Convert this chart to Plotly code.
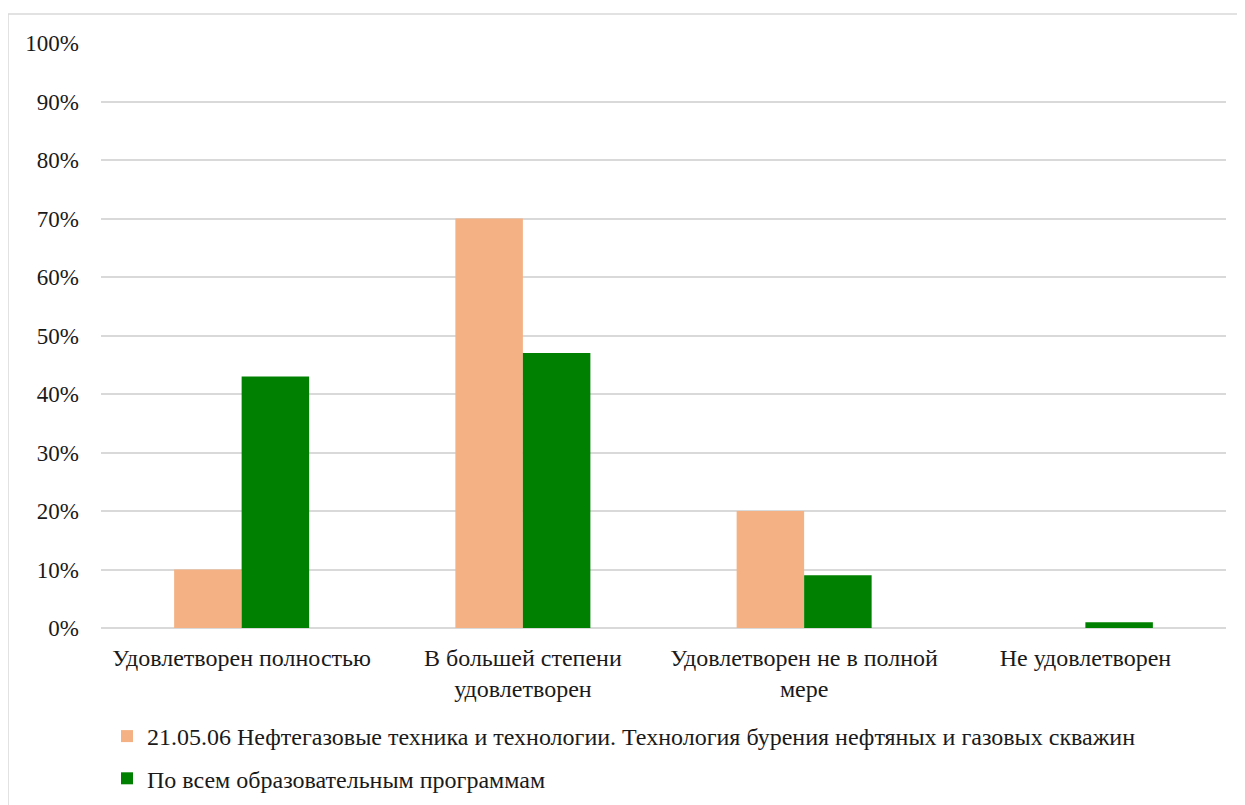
import plotly.graph_objects as go

categories = ["Удовлетворен полностью", "В большей степени<br>удовлетворен",
              "Удовлетворен не в полной<br>мере", "Не удовлетворен"]
series_names = ["21.05.06 Нефтегазовые техника и технологии. Технология бурения нефтяных и газовых скважин",
                "По всем образовательным программам"]
program_values = [10, 70, 20, 0]
all_values = [43, 47, 9, 1]
tick_vals = [0, 10, 20, 30, 40, 50, 60, 70, 80, 90, 100]
tick_text = [f"{v}%" for v in tick_vals]

FONT = "Liberation Serif"
FS = 24
FS_Y = 23

fig = go.Figure()
fig.add_trace(go.Bar(x=categories, y=program_values, name=series_names[0],
                     marker=dict(color="#f4b183", line=dict(width=0)), legendgroup="a"))
fig.add_trace(go.Bar(x=categories, y=all_values, name=series_names[1],
                     marker=dict(color="#008000", line=dict(width=0)), legendgroup="b"))

OFF = 8  # page body margin
W, H = 1245, 805
L, R, T, B = 101 - OFF, 19 + OFF, 43 - OFF, 177 + OFF
pw, ph = W - L - R, H - T - B

def px_x(x):
    return (x - OFF - L) / pw

def px_y(y):
    return (H - B - (y - OFF)) / ph

fig.update_layout(
    width=W, height=H,
    margin=dict(l=L, r=R, t=T, b=B, autoexpand=False),
    paper_bgcolor="white", plot_bgcolor="white",
    barmode="group", bargap=0.52, bargroupgap=0,
    font=dict(family=FONT, size=FS, color="#1a1a1a"),
    xaxis=dict(showgrid=False, showline=False, ticks="", ticklabelstandoff=13,
               tickfont=dict(family=FONT, size=FS)),
    yaxis=dict(range=[0, 100], tickvals=tick_vals, ticktext=tick_text,
               showgrid=True, gridcolor="#d9d9d9", gridwidth=1.5,
               zeroline=True, zerolinecolor="#d9d9d9", zerolinewidth=1.5,
               showline=False, ticks="", ticklabelstandoff=21,
               tickfont=dict(family=FONT, size=FS_Y)),
    legend=dict(orientation="v", x=px_x(107), xanchor="left",
                y=px_y(714), yanchor="top",
                traceorder="grouped", tracegroupgap=8,
                font=dict(family=FONT, size=FS), itemwidth=30,
                bgcolor="rgba(0,0,0,0)"),
    shapes=[dict(type="rect", xref="paper", yref="paper",
                 x0=px_x(8), x1=1.2, y0=-0.5, y1=px_y(14),
                 line=dict(color="#d9d9d9", width=1.5), fillcolor="rgba(0,0,0,0)",
                 layer="below")],
)

fig.write_html("out.html")
